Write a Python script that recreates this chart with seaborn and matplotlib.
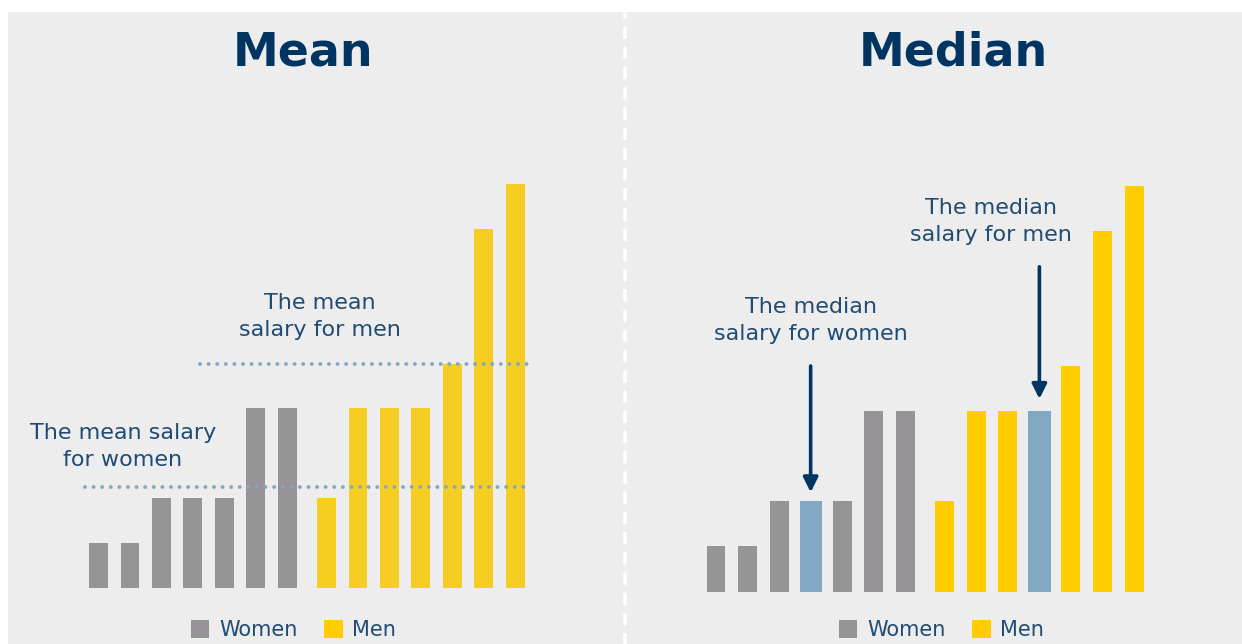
import numpy as np
import pandas as pd
import matplotlib
matplotlib.use("Agg")
import matplotlib.pyplot as plt
from matplotlib.patches import Patch, Rectangle
from matplotlib.lines import Line2D
import seaborn as sns

# ---- data ----
groups = ["Women", "Men"]
women_salary = [1, 1, 2, 2, 2, 4, 4]
men_salary = [2, 4, 4, 4, 5, 8, 9]
mean_lines = [2.25, 5.0]          # mean women, mean men (as drawn)
panel_titles = ["Mean", "Median"]
mean_labels = ["The mean salary\nfor women", "The mean\nsalary for men"]
median_labels = ["The median\nsalary for women", "The median\nsalary for men"]

# ---- style ----
sns.set_theme(style="white")
plt.rcParams["font.family"] = ["DejaVu Sans"]

GREY = "#969496"
YELLOW_MEAN = "#f6ce22"
YELLOW_MED = "#ffcc00"
BLUE = "#81a8c3"
NAVY = "#003562"
TXT = "#1f4b74"
BG = "#ededed"

W, H = 1242, 644
fig = plt.figure(figsize=(W / 100, H / 100), dpi=100, facecolor="white")
fig.add_artist(Rectangle((8 / W, 0), 1 - 8 / W, (H - 12) / H,
                         transform=fig.transFigure, facecolor=BG,
                         edgecolor="none", zorder=-10))
# divider
fig.add_artist(Line2D([625 / W, 625 / W], [0, (H - 14) / H],
                      transform=fig.transFigure, color="white", lw=2.6,
                      ls=(0, (2.6, 3.0)), solid_capstyle="round",
                      dash_capstyle="round"))


def make_ax(px0, px1, base_px, unit_px, x0_px, step_px):
    top, bot = 100, 600
    ax = fig.add_axes([px0 / W, (H - bot) / H, (px1 - px0) / W, (bot - top) / H])
    ax.set_xlim((px0 - x0_px) / step_px, (px1 - x0_px) / step_px)
    ax.set_ylim(-(bot - base_px) / unit_px, (base_px - top) / unit_px)
    ax.set_facecolor("none")
    return ax


wx = np.arange(len(women_salary), dtype=float)
mx = 7.25 + np.arange(len(men_salary), dtype=float)
bar_kw = dict(saturation=1, native_scale=True, errorbar=None,
              edgecolor="none", linewidth=0)

# ---------------- Mean panel ----------------
axL = make_ax(20, 600, 588, 44.9, 98.5, 31.45)
sns.barplot(x=wx, y=women_salary, color=GREY, width=0.6, ax=axL, **bar_kw)
sns.barplot(x=mx, y=men_salary, color=YELLOW_MEAN, width=0.6, ax=axL, **bar_kw)
axL.set_xlim((20 - 98.5) / 31.45, (600 - 98.5) / 31.45)
axL.set_ylim(-(600 - 588) / 44.9, (588 - 100) / 44.9)
dot = dict(color=BLUE, lw=2.8, ls=(0, (0.01, 2.2)), dash_capstyle="round", zorder=5)
axL.plot([-0.43, 13.56], [mean_lines[0]] * 2, **dot)
axL.plot([3.23, 13.81], [mean_lines[1]] * 2, **dot)
axL.text(0.78, 3.15, mean_labels[0], ha="center", va="center", fontsize=16,
         color=TXT, linespacing=1.45)
axL.text(7.04, 6.04, mean_labels[1], ha="center", va="center", fontsize=16,
         color=TXT, linespacing=1.45)
axL.axis("off")

# ---------------- Median panel ----------------
axR = make_ax(637, 1217, 591.5, 45.1, 716, 31.55)
w_med = int(np.argsort(women_salary)[len(women_salary) // 2])
m_med = int(np.argsort(men_salary, kind="stable")[len(men_salary) // 2])
keep_w = [i for i in range(len(women_salary)) if i != w_med]
keep_m = [i for i in range(len(men_salary)) if i != m_med]
sns.barplot(x=wx[keep_w], y=np.array(women_salary)[keep_w], color=GREY,
            width=0.6, ax=axR, **bar_kw)
sns.barplot(x=mx[keep_m], y=np.array(men_salary)[keep_m], color=YELLOW_MED,
            width=0.6, ax=axR, **bar_kw)
sns.barplot(x=[wx[w_med]], y=[women_salary[w_med]], color=BLUE,
            width=0.7, ax=axR, **bar_kw)
sns.barplot(x=[mx[m_med]], y=[men_salary[m_med]], color=BLUE,
            width=0.75, ax=axR, **bar_kw)
axR.set_xlim((637 - 716) / 31.55, (1217 - 716) / 31.55)
axR.set_ylim(-(600 - 591.5) / 45.1, (591.5 - 100) / 45.1)
arrow = dict(arrowstyle="-|>", color=NAVY, lw=2.6, mutation_scale=22,
             shrinkA=0, shrinkB=0)
axR.annotate("", xy=(wx[w_med], women_salary[w_med] + 0.2),
             xytext=(wx[w_med], 5.0), arrowprops=arrow)
axR.annotate("", xy=(mx[m_med], men_salary[m_med] + 0.27),
             xytext=(mx[m_med], 7.2), arrowprops=arrow)
axR.text(wx[w_med], 6.0, median_labels[0], ha="center", va="center",
         fontsize=16, color=TXT, linespacing=1.45)
axR.text(8.73, 8.2, median_labels[1], ha="center", va="center",
         fontsize=16, color=TXT, linespacing=1.45)
axR.axis("off")

# titles
for title, cx in zip(panel_titles, [303, 953]):
    fig.text(cx / W, 1 - 53 / H, title, ha="center", va="center",
             fontsize=33, fontweight="bold", color=NAVY)

# legends
for cx in [293.5, 941.5]:
    handles = [Patch(facecolor=GREY, edgecolor="none"),
               Patch(facecolor=YELLOW_MED, edgecolor="none")]
    leg = fig.legend(handles, groups, loc="center",
                     bbox_to_anchor=(cx / W, 1 - 630 / H), ncol=2,
                     frameon=False, fontsize=15, handlelength=0.9,
                     handleheight=0.95, handletextpad=0.45,
                     columnspacing=1.3, borderpad=0, borderaxespad=0)
    for t in leg.get_texts():
        t.set_color(TXT)

fig.savefig("out.png", dpi=100, facecolor="white")
